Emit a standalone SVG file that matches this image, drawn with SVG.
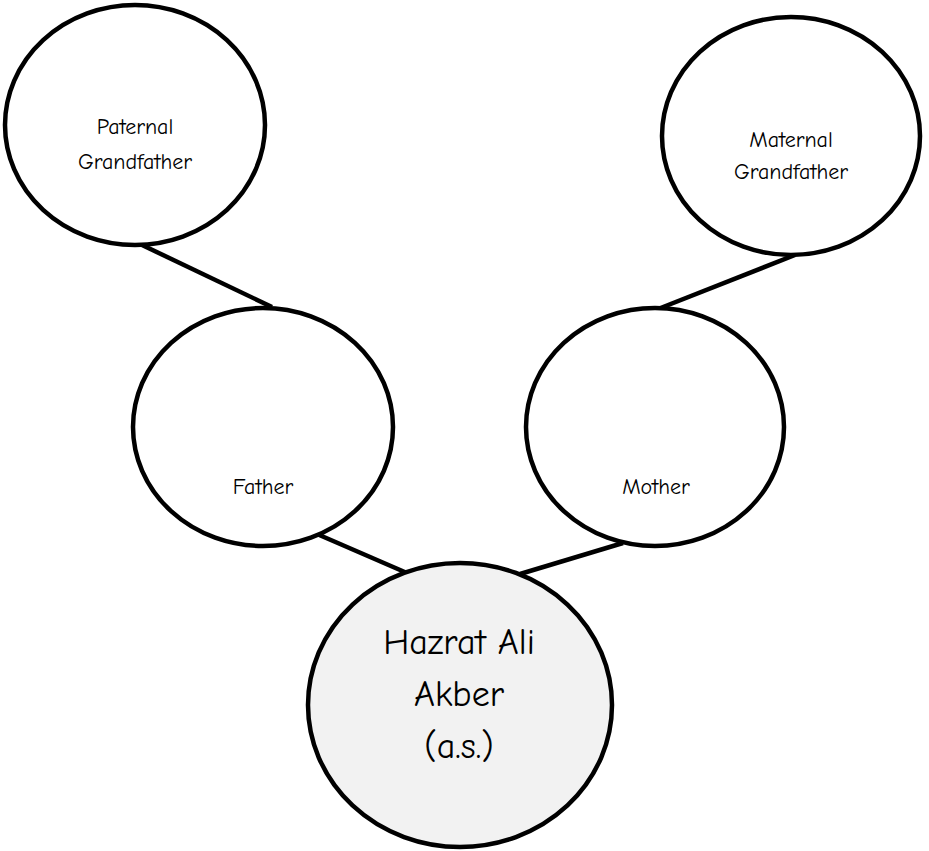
<svg xmlns="http://www.w3.org/2000/svg" width="929" height="851" viewBox="0 0 929 851">
<style>
.node{fill:#ffffff;stroke:#000000;stroke-width:4.5}
.main{fill:#f2f2f2}
.edge{stroke:#000000;stroke-width:4.5;stroke-linecap:butt;fill:none}
text{font-family:"Comic Sans MS","Comic Neue","DejaVu Sans",sans-serif;fill:#000000;text-anchor:middle}
.s{font-size:22px}
.l{font-size:36px}
</style>
<rect width="929" height="851" fill="#ffffff"/>
<g id="connectors">
<line class="edge" x1="142" y1="245" x2="272" y2="307"/>
<line class="edge" x1="795" y1="255" x2="658" y2="309"/>
<line class="edge" x1="317" y1="534" x2="407" y2="573"/>
<line class="edge" x1="623" y1="543" x2="520" y2="574"/>
</g>
<g id="paternal-grandfather">
<ellipse class="node" cx="135" cy="125" rx="130" ry="120"/>
<text class="s" x="135" y="134">Paternal</text>
<text class="s" x="135" y="169">Grandfather</text>
</g>
<g id="maternal-grandfather">
<ellipse class="node" cx="791" cy="136" rx="129" ry="119"/>
<text class="s" x="791" y="147">Maternal</text>
<text class="s" x="791" y="179">Grandfather</text>
</g>
<g id="father">
<ellipse class="node" cx="263" cy="427" rx="130" ry="119"/>
<text class="s" x="263" y="494">Father</text>
</g>
<g id="mother">
<ellipse class="node" cx="655" cy="427" rx="129" ry="119"/>
<text class="s" x="656" y="494">Mother</text>
</g>
<g id="hazrat-ali-akber">
<ellipse class="node main" cx="460" cy="705" rx="152" ry="142"/>
<text class="l" x="459" y="654">Hazrat Ali</text>
<text class="l" x="459" y="706">Akber</text>
<text class="l" x="459" y="758">(a.s.)</text>
</g>
</svg>
